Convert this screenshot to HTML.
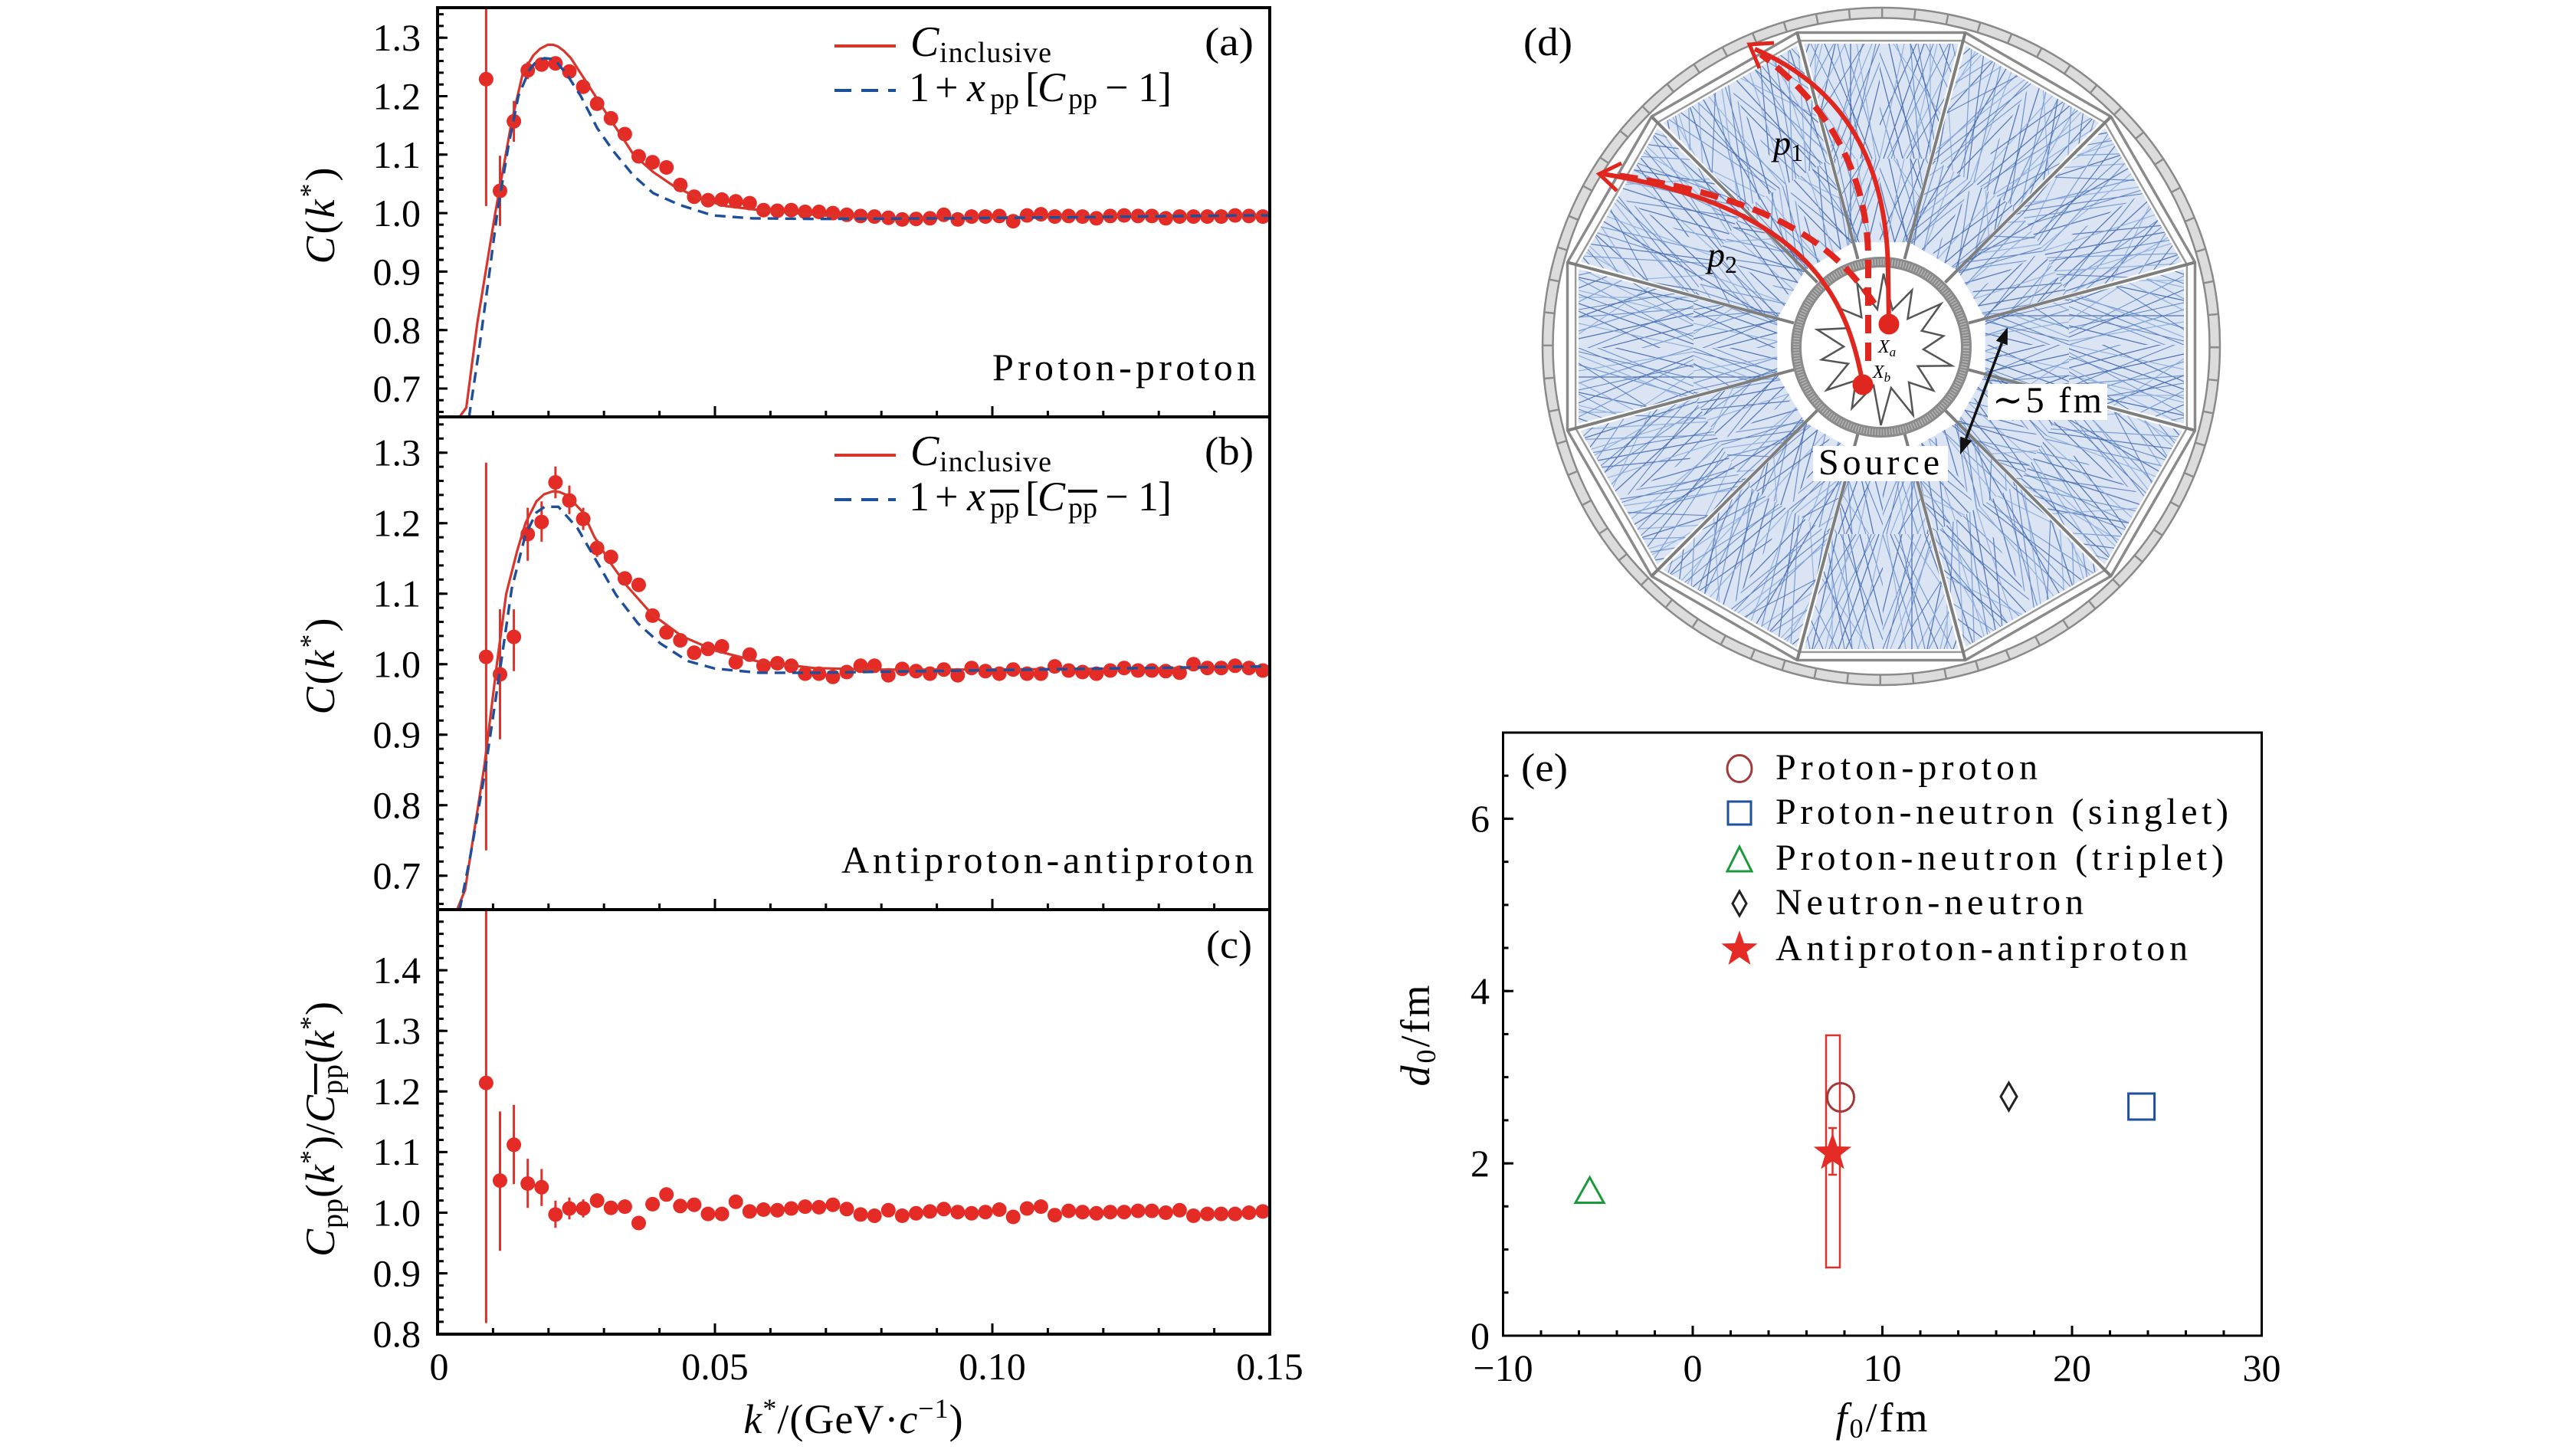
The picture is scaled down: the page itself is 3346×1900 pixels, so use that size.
<!DOCTYPE html>
<html><head><meta charset="utf-8"><style>html,body{margin:0;padding:0;background:#fff}svg{display:block}</style></head>
<body>
<svg width="3346" height="1900" viewBox="0 0 3346 1900" xmlns="http://www.w3.org/2000/svg" font-family="'Liberation Serif','DejaVu Serif',serif">
<defs>
<clipPath id="cA"><rect x="571" y="10" width="1086" height="534"/></clipPath>
<clipPath id="cB"><rect x="571" y="544" width="1086" height="643"/></clipPath>
<clipPath id="cC"><rect x="571" y="1187" width="1086" height="554"/></clipPath>
<pattern id="trk" patternUnits="userSpaceOnUse" width="150" height="150">
<g fill="none" stroke-opacity="0.8">
<path stroke="#2a54a0" stroke-width="1.2" d="M0 5L150 58M0 45L150 12M0 95L150 40M0 140L150 78M0 -20L150 48M0 60L150 92M0 125L150 162M0 30L150 -8M0 112L150 112"/>
<path stroke="#5a84c6" stroke-width="1.2" d="M0 20L150 -25M0 70L150 22M0 100L150 160M0 150L150 104M0 10L150 90M0 52L150 40M0 85L150 128M0 135L150 60"/>
<path stroke="#86a8da" stroke-width="1.3" d="M0 30L150 105M0 80L150 140M0 118L150 18M0 0L150 32M0 66L150 66M0 145L150 120M0 40L150 75"/>
<path stroke="#3d68b0" stroke-width="1.05" d="M0 15L150 70M0 55L150 -5M0 90L150 150M0 128L150 95M0 75L150 50M0 35L150 130M0 110L150 145"/>
</g>
</pattern>
<path id="wedge" d="M2590.7 417.4L2850 351.3L2850 552.7L2590.7 486.6Z"/>
</defs>
<rect width="3346" height="1900" fill="#fff"/>

<!-- ============ LEFT PANELS ============ -->
<g stroke="#e0302a" stroke-width="3" fill="none">
<path clip-path="url(#cA)" d="M634.4 10V268.9M652.5 203.3V294.8M670.6 131.6V185M688.7 80.5V103.3M706.8 75V93.4M724.9 75V90M743 86V101"/>
<path clip-path="url(#cB)" d="M634.4 603.8V1109.7M652.5 795.1V964.8M670.6 795.1V875.8M688.7 662.6V731.7M706.8 654.3V706.9M724.9 608.8V650.2M743 633.6V670.9M761.1 662.6V691.6M779.2 704V726.8"/>
<path clip-path="url(#cC)" d="M634.4 1187V1726.5M652.5 1450.4V1632.3M670.6 1441.7V1545.3M688.7 1512.1V1576.2M706.8 1525.5V1573.8M724.9 1566.7V1602.3M743 1562.7V1591.2M761.1 1565.1V1588.8M779.2 1557.2V1576.2M797.3 1568V1584"/>
</g>
<g fill="#e52b25" clip-path="url(#cA)">
<circle cx="634.4" cy="103.3" r="9.5"/><circle cx="652.5" cy="249.1" r="9.5"/><circle cx="670.6" cy="158.3" r="9.5"/><circle cx="688.7" cy="91.9" r="9.5"/><circle cx="706.8" cy="84.2" r="9.5"/><circle cx="724.9" cy="82.7" r="9.5"/><circle cx="743.0" cy="93.4" r="9.5"/><circle cx="761.1" cy="113.2" r="9.5"/><circle cx="779.2" cy="135.4" r="9.5"/><circle cx="797.3" cy="154.4" r="9.5"/>
<circle cx="815.4" cy="175.0" r="9.5"/><circle cx="833.5" cy="204.0" r="9.5"/><circle cx="851.6" cy="211.7" r="9.5"/><circle cx="869.7" cy="218.5" r="9.5"/><circle cx="887.8" cy="241.4" r="9.5"/><circle cx="905.9" cy="256.7" r="9.5"/><circle cx="924.0" cy="261.3" r="9.5"/><circle cx="942.1" cy="260.5" r="9.5"/><circle cx="960.2" cy="262.8" r="9.5"/><circle cx="978.3" cy="265.1" r="9.5"/>
<circle cx="996.4" cy="274.2" r="9.5"/><circle cx="1014.5" cy="275.0" r="9.5"/><circle cx="1032.6" cy="274.2" r="9.5"/><circle cx="1050.7" cy="276.5" r="9.5"/><circle cx="1068.8" cy="276.5" r="9.5"/><circle cx="1086.9" cy="278.1" r="9.5"/><circle cx="1105.0" cy="280.3" r="9.5"/><circle cx="1123.1" cy="281.9" r="9.5"/><circle cx="1141.2" cy="282.6" r="9.5"/><circle cx="1159.3" cy="284.2" r="9.5"/>
<circle cx="1177.4" cy="286.4" r="9.5"/><circle cx="1195.5" cy="285.7" r="9.5"/><circle cx="1213.6" cy="284.9" r="9.5"/><circle cx="1231.7" cy="280.3" r="9.5"/><circle cx="1249.8" cy="286.4" r="9.5"/><circle cx="1267.9" cy="282.6" r="9.5"/><circle cx="1286.0" cy="282.6" r="9.5"/><circle cx="1304.1" cy="281.9" r="9.5"/><circle cx="1322.2" cy="288.7" r="9.5"/><circle cx="1340.3" cy="281.1" r="9.5"/>
<circle cx="1358.4" cy="279.6" r="9.5"/><circle cx="1376.5" cy="282.6" r="9.5"/><circle cx="1394.6" cy="281.9" r="9.5"/><circle cx="1412.7" cy="282.6" r="9.5"/><circle cx="1430.8" cy="284.9" r="9.5"/><circle cx="1448.9" cy="281.9" r="9.5"/><circle cx="1467.0" cy="281.1" r="9.5"/><circle cx="1485.1" cy="281.9" r="9.5"/><circle cx="1503.2" cy="281.9" r="9.5"/><circle cx="1521.3" cy="284.9" r="9.5"/>
<circle cx="1539.4" cy="282.6" r="9.5"/><circle cx="1557.5" cy="282.6" r="9.5"/><circle cx="1575.6" cy="282.6" r="9.5"/><circle cx="1593.7" cy="282.6" r="9.5"/><circle cx="1611.8" cy="281.1" r="9.5"/><circle cx="1629.9" cy="281.9" r="9.5"/><circle cx="1648.0" cy="282.6" r="9.5"/>
</g>
<g fill="#e52b25" clip-path="url(#cB)">
<circle cx="634.4" cy="857.2" r="9.5"/><circle cx="652.5" cy="880" r="9.5"/><circle cx="670.6" cy="831.1" r="9.5"/><circle cx="688.7" cy="697" r="9.5"/><circle cx="706.8" cy="681.2" r="9.5"/><circle cx="724.9" cy="629.5" r="9.5"/><circle cx="743.0" cy="653.1" r="9.5"/><circle cx="761.1" cy="677.1" r="9.5"/><circle cx="779.2" cy="715.2" r="9.5"/><circle cx="797.3" cy="726.8" r="9.5"/>
<circle cx="815.4" cy="754.9" r="9.5"/><circle cx="833.5" cy="763.2" r="9.5"/><circle cx="851.6" cy="803.4" r="9.5"/><circle cx="869.7" cy="825.3" r="9.5"/><circle cx="887.8" cy="835.6" r="9.5"/><circle cx="905.9" cy="851.8" r="9.5"/><circle cx="924.0" cy="846.8" r="9.5"/><circle cx="942.1" cy="843.5" r="9.5"/><circle cx="960.2" cy="864.2" r="9.5"/><circle cx="978.3" cy="854.3" r="9.5"/>
<circle cx="996.4" cy="868.8" r="9.5"/><circle cx="1014.5" cy="865.5" r="9.5"/><circle cx="1032.6" cy="868.8" r="9.5"/><circle cx="1050.7" cy="879.1" r="9.5"/><circle cx="1068.8" cy="879.1" r="9.5"/><circle cx="1086.9" cy="883.3" r="9.5"/><circle cx="1105.0" cy="877.0" r="9.5"/><circle cx="1123.1" cy="868.8" r="9.5"/><circle cx="1141.2" cy="868.8" r="9.5"/><circle cx="1159.3" cy="881.2" r="9.5"/>
<circle cx="1177.4" cy="872.9" r="9.5"/><circle cx="1195.5" cy="875.8" r="9.5"/><circle cx="1213.6" cy="879.1" r="9.5"/><circle cx="1231.7" cy="873.7" r="9.5"/><circle cx="1249.8" cy="881.2" r="9.5"/><circle cx="1267.9" cy="871.7" r="9.5"/><circle cx="1286.0" cy="875.8" r="9.5"/><circle cx="1304.1" cy="879.1" r="9.5"/><circle cx="1322.2" cy="873.7" r="9.5"/><circle cx="1340.3" cy="879.1" r="9.5"/>
<circle cx="1358.4" cy="879.1" r="9.5"/><circle cx="1376.5" cy="869.6" r="9.5"/><circle cx="1394.6" cy="875.0" r="9.5"/><circle cx="1412.7" cy="877.0" r="9.5"/><circle cx="1430.8" cy="879.1" r="9.5"/><circle cx="1448.9" cy="875.0" r="9.5"/><circle cx="1467.0" cy="871.7" r="9.5"/><circle cx="1485.1" cy="875.0" r="9.5"/><circle cx="1503.2" cy="875.0" r="9.5"/><circle cx="1521.3" cy="875.8" r="9.5"/>
<circle cx="1539.4" cy="877.9" r="9.5"/><circle cx="1557.5" cy="866.7" r="9.5"/><circle cx="1575.6" cy="871.7" r="9.5"/><circle cx="1593.7" cy="871.7" r="9.5"/><circle cx="1611.8" cy="868.8" r="9.5"/><circle cx="1629.9" cy="871.7" r="9.5"/><circle cx="1648.0" cy="875.0" r="9.5"/>
</g>
<g fill="#e52b25" clip-path="url(#cC)">
<circle cx="634.4" cy="1413.2" r="9.5"/><circle cx="652.5" cy="1540.6" r="9.5"/><circle cx="670.6" cy="1493.9" r="9.5"/><circle cx="688.7" cy="1544.5" r="9.5"/><circle cx="706.8" cy="1549.3" r="9.5"/><circle cx="724.9" cy="1584.9" r="9.5"/><circle cx="743.0" cy="1577.0" r="9.5"/><circle cx="761.1" cy="1577.0" r="9.5"/><circle cx="779.2" cy="1566.7" r="9.5"/><circle cx="797.3" cy="1576.2" r="9.5"/>
<circle cx="815.4" cy="1574.6" r="9.5"/><circle cx="833.5" cy="1596.0" r="9.5"/><circle cx="851.6" cy="1571.4" r="9.5"/><circle cx="869.7" cy="1558.8" r="9.5"/><circle cx="887.8" cy="1573.8" r="9.5"/><circle cx="905.9" cy="1572.2" r="9.5"/><circle cx="924.0" cy="1584.1" r="9.5"/><circle cx="942.1" cy="1584.1" r="9.5"/><circle cx="960.2" cy="1568.3" r="9.5"/><circle cx="978.3" cy="1580.9" r="9.5"/>
<circle cx="996.4" cy="1578.5" r="9.5"/><circle cx="1014.5" cy="1579.3" r="9.5"/><circle cx="1032.6" cy="1577.0" r="9.5"/><circle cx="1050.7" cy="1574.6" r="9.5"/><circle cx="1068.8" cy="1575.4" r="9.5"/><circle cx="1086.9" cy="1572.2" r="9.5"/><circle cx="1105.0" cy="1577.8" r="9.5"/><circle cx="1123.1" cy="1584.9" r="9.5"/><circle cx="1141.2" cy="1586.5" r="9.5"/><circle cx="1159.3" cy="1579.3" r="9.5"/>
<circle cx="1177.4" cy="1586.5" r="9.5"/><circle cx="1195.5" cy="1583.3" r="9.5"/><circle cx="1213.6" cy="1580.9" r="9.5"/><circle cx="1231.7" cy="1577.8" r="9.5"/><circle cx="1249.8" cy="1581.7" r="9.5"/><circle cx="1267.9" cy="1583.3" r="9.5"/><circle cx="1286.0" cy="1581.7" r="9.5"/><circle cx="1304.1" cy="1578.5" r="9.5"/><circle cx="1322.2" cy="1588.0" r="9.5"/><circle cx="1340.3" cy="1577.0" r="9.5"/>
<circle cx="1358.4" cy="1574.6" r="9.5"/><circle cx="1376.5" cy="1585.7" r="9.5"/><circle cx="1394.6" cy="1580.1" r="9.5"/><circle cx="1412.7" cy="1581.7" r="9.5"/><circle cx="1430.8" cy="1583.3" r="9.5"/><circle cx="1448.9" cy="1581.7" r="9.5"/><circle cx="1467.0" cy="1581.7" r="9.5"/><circle cx="1485.1" cy="1580.1" r="9.5"/><circle cx="1503.2" cy="1580.1" r="9.5"/><circle cx="1521.3" cy="1582.5" r="9.5"/>
<circle cx="1539.4" cy="1579.3" r="9.5"/><circle cx="1557.5" cy="1586.5" r="9.5"/><circle cx="1575.6" cy="1584.1" r="9.5"/><circle cx="1593.7" cy="1584.1" r="9.5"/><circle cx="1611.8" cy="1584.1" r="9.5"/><circle cx="1629.9" cy="1582.5" r="9.5"/><circle cx="1648.0" cy="1580.9" r="9.5"/>
</g>
<g fill="none" stroke-linejoin="round">
<polyline clip-path="url(#cA)" stroke="#d8362c" stroke-width="3.2" points="599,545 608.5,532 623,420.7 646.3,278 667.8,158.3 682.4,94.9 696.2,72 705,63.5 715,58.3 722,58.5 728,60.6 736,66.5 745,75.9 762.3,102.6 777,125.5 794,152.2 812,178.9 826.7,201.8 852.5,224.6 878.3,242.2 912.6,259 947,268.9 998.6,275 1084.5,281.9 1196,284.9 1325,283.4 1497,281.9 1657,281.1"/>
<polyline clip-path="url(#cA)" stroke="#1d4f9a" stroke-width="3.4" stroke-dasharray="14 9" points="612,545 624.8,458.9 637.7,363.5 648.9,278 663.5,190.3 676.4,125.5 691,91.1 700,80 710.8,75.9 723.6,77.4 740.8,98.7 758,125.5 779.5,167.4 801,197.9 826.7,229.2 852.5,252.1 887,267.4 929.8,281.1 981.4,284.9 1067.3,285.7 1239,284.9 1411,283.4 1625.7,281.1 1657,281.1"/>
<polyline clip-path="url(#cB)" stroke="#d8362c" stroke-width="3.2" points="596.1,1188 606.9,1161.5 632,1000 648.4,866.7 660.6,774.8 675,718.5 685.7,682.9 700,654.3 710,645 721.6,641.1 730,642 739.5,646 761,668.8 775.3,700 796.9,735 818.4,765 850.6,801.3 890.1,830.3 933.1,848.9 990.4,863.4 1062.1,871.7 1133.8,873.7 1277.2,873.7 1420.6,872.9 1564,871.7 1657,870.8"/>
<polyline clip-path="url(#cB)" stroke="#1d4f9a" stroke-width="3.4" stroke-dasharray="14 9" points="599.7,1188 614,1115.9 632,1012.4 653.5,867.5 667.8,768.2 685.7,697.8 700,668.8 710.8,661.3 728.7,661.3 753.8,689.5 775.3,726.8 804,776.4 832.7,813.7 861.4,839.4 897.2,862.6 933.1,872.5 990.4,877.9 1062.1,877.9 1205.5,875.8 1348.9,873.7 1492.3,871.7 1657,869.6"/>
</g>
<g fill="none" stroke="#000">
<rect x="571" y="10" width="1086" height="1731" stroke-width="4"/>
<line x1="571" y1="544" x2="1657" y2="544" stroke-width="4"/>
<line x1="571" y1="1187" x2="1657" y2="1187" stroke-width="4"/>
</g>
<g stroke="#000" fill="none">
<line x1="575" y1="17.13" x2="575" y2="538.97" stroke-width="8" stroke-dasharray="3 12.26"/>
<line x1="577.5" y1="47.7" x2="577.5" y2="508.45" stroke-width="13" stroke-dasharray="3 73.3"/>
<line x1="575" y1="552.4" x2="575" y2="1181" stroke-width="8" stroke-dasharray="3 15.4"/>
<line x1="577.5" y1="589.2" x2="577.5" y2="1144.2" stroke-width="13" stroke-dasharray="3 89"/>
<line x1="575" y1="1201.3" x2="575" y2="1726.4" stroke-width="8" stroke-dasharray="3 12.82"/>
<line x1="577.5" y1="1264.6" x2="577.5" y2="1742.2" stroke-width="13" stroke-dasharray="3 76.1"/>
<line x1="641.9" y1="540" x2="1586.1" y2="540" stroke-width="8" stroke-dasharray="3 69.4"/>
<line x1="641.9" y1="1183" x2="1586.1" y2="1183" stroke-width="8" stroke-dasharray="3 69.4"/>
<line x1="641.9" y1="1737" x2="1586.1" y2="1737" stroke-width="8" stroke-dasharray="3 69.4"/>
<path stroke-width="3" d="M933 544V530M1295 544V530M933 1187V1173M1295 1187V1173M933 1741V1727M1295 1741V1727"/>
</g>
<g font-size="50" text-anchor="end" fill="#000">
<text x="549" y="66">1.3</text><text x="549" y="142.5">1.2</text><text x="549" y="218.8">1.1</text><text x="549" y="295">1.0</text><text x="549" y="371.4">0.9</text><text x="549" y="447.7">0.8</text><text x="549" y="524">0.7</text>
<text x="549" y="607.7">1.3</text><text x="549" y="699.7">1.2</text><text x="549" y="791.7">1.1</text><text x="549" y="883.7">1.0</text><text x="549" y="975.7">0.9</text><text x="549" y="1067.7">0.8</text><text x="549" y="1159.7">0.7</text>
<text x="549" y="1283">1.4</text><text x="549" y="1362">1.3</text><text x="549" y="1441">1.2</text><text x="549" y="1520">1.1</text><text x="549" y="1599.5">1.0</text><text x="549" y="1678.5">0.9</text><text x="549" y="1757.5">0.8</text>
</g>
<g font-size="50" text-anchor="middle">
<text x="573" y="1800">0</text><text x="933" y="1800">0.05</text><text x="1295" y="1800">0.10</text><text x="1657" y="1800">0.15</text>
</g>
<text transform="translate(436,280) rotate(-90)" text-anchor="middle" font-size="54" letter-spacing="3"><tspan font-style="italic">C</tspan>(<tspan font-style="italic">k</tspan><tspan font-size="36" dy="-20">*</tspan><tspan dy="20">)</tspan></text>
<text transform="translate(436,868) rotate(-90)" text-anchor="middle" font-size="54" letter-spacing="3"><tspan font-style="italic">C</tspan>(<tspan font-style="italic">k</tspan><tspan font-size="36" dy="-20">*</tspan><tspan dy="20">)</tspan></text>
<text transform="translate(436,1473) rotate(-90)" text-anchor="middle" font-size="54" letter-spacing="1"><tspan font-style="italic">C</tspan><tspan font-size="38" dy="10">pp</tspan><tspan dy="-10">(</tspan><tspan font-style="italic">k</tspan><tspan font-size="36" dy="-20">*</tspan><tspan dy="20">)/</tspan><tspan font-style="italic">C</tspan><tspan font-size="38" dy="10" text-decoration="overline">pp</tspan><tspan dy="-10">(</tspan><tspan font-style="italic">k</tspan><tspan font-size="36" dy="-20">*</tspan><tspan dy="20">)</tspan></text>
<text x="1114" y="1870" text-anchor="middle" font-size="54" letter-spacing="1"><tspan font-style="italic">k</tspan><tspan font-size="36" dy="-20">*</tspan><tspan dy="20">/(GeV·</tspan><tspan font-style="italic">c</tspan><tspan font-size="36" dy="-20">−1</tspan><tspan dy="20">)</tspan></text>
<!-- legends a -->
<line x1="1089" y1="60" x2="1169" y2="60" stroke="#d8362c" stroke-width="4"/>
<line x1="1089" y1="118" x2="1169" y2="118" stroke="#1d4f9a" stroke-width="4" stroke-dasharray="22 13"/>
<text x="1188" y="73" font-size="56" font-style="italic">C</text>
<text x="1226" y="81" font-size="38" textLength="146" lengthAdjust="spacing">inclusive</text>
<text y="132" font-size="54"><tspan x="1186">1</tspan><tspan x="1220">+</tspan><tspan x="1262" font-style="italic">x</tspan><tspan x="1292" y="141" font-size="38">pp</tspan><tspan x="1338" y="132">[</tspan><tspan x="1354" font-style="italic">C</tspan><tspan x="1394" y="141" font-size="38">pp</tspan><tspan x="1442" y="132">−</tspan><tspan x="1485">1</tspan><tspan x="1511">]</tspan></text>
<text x="1572" y="72" font-size="52" textLength="64" lengthAdjust="spacingAndGlyphs">(a)</text>
<text x="1295" y="496" font-size="50" textLength="344" lengthAdjust="spacing">Proton-proton</text>
<!-- legends b -->
<line x1="1089" y1="594" x2="1169" y2="594" stroke="#d8362c" stroke-width="4"/>
<line x1="1089" y1="652" x2="1169" y2="652" stroke="#1d4f9a" stroke-width="4" stroke-dasharray="22 13"/>
<text x="1188" y="607" font-size="56" font-style="italic">C</text>
<text x="1226" y="615" font-size="38" textLength="146" lengthAdjust="spacing">inclusive</text>
<text y="666" font-size="54"><tspan x="1186">1</tspan><tspan x="1220">+</tspan><tspan x="1262" font-style="italic">x</tspan><tspan x="1292" y="675" font-size="38" text-decoration="overline">pp</tspan><tspan x="1338" y="666">[</tspan><tspan x="1354" font-style="italic">C</tspan><tspan x="1394" y="675" font-size="38" text-decoration="overline">pp</tspan><tspan x="1442" y="666">−</tspan><tspan x="1485">1</tspan><tspan x="1511">]</tspan></text>
<text x="1572" y="606" font-size="52" textLength="64" lengthAdjust="spacingAndGlyphs">(b)</text>
<text x="1098" y="1139" font-size="50" textLength="538" lengthAdjust="spacing">Antiproton-antiproton</text>
<text x="1574" y="1250" font-size="52" textLength="60" lengthAdjust="spacingAndGlyphs">(c)</text>

<!-- ============ PANEL D ============ -->
<g>
<g fill="#dbe4f3"><use href="#wedge"/><use href="#wedge" transform="rotate(30 2455 452)"/><use href="#wedge" transform="rotate(60 2455 452)"/><use href="#wedge" transform="rotate(90 2455 452)"/><use href="#wedge" transform="rotate(120 2455 452)"/><use href="#wedge" transform="rotate(150 2455 452)"/><use href="#wedge" transform="rotate(180 2455 452)"/><use href="#wedge" transform="rotate(210 2455 452)"/><use href="#wedge" transform="rotate(240 2455 452)"/><use href="#wedge" transform="rotate(270 2455 452)"/><use href="#wedge" transform="rotate(300 2455 452)"/><use href="#wedge" transform="rotate(330 2455 452)"/></g>
<g fill="url(#trk)"><use href="#wedge"/><use href="#wedge" transform="rotate(30 2455 452)"/><use href="#wedge" transform="rotate(60 2455 452)"/><use href="#wedge" transform="rotate(90 2455 452)"/><use href="#wedge" transform="rotate(120 2455 452)"/><use href="#wedge" transform="rotate(150 2455 452)"/><use href="#wedge" transform="rotate(180 2455 452)"/><use href="#wedge" transform="rotate(210 2455 452)"/><use href="#wedge" transform="rotate(240 2455 452)"/><use href="#wedge" transform="rotate(270 2455 452)"/><use href="#wedge" transform="rotate(300 2455 452)"/><use href="#wedge" transform="rotate(330 2455 452)"/></g>
<circle cx="2455" cy="452" r="435" fill="none" stroke="#dcdcdc" stroke-width="13"/>
<circle cx="2455" cy="452" r="435" fill="none" stroke="#8d8d8d" stroke-width="13" stroke-dasharray="2.5 40.2"/>
<circle cx="2455" cy="452" r="442" fill="none" stroke="#8a8a8a" stroke-width="2.5"/>
<circle cx="2455" cy="452" r="428.5" fill="none" stroke="#8a8a8a" stroke-width="2.5"/>
<polygon fill="none" stroke="#8a8a8a" stroke-width="3.5" points="2864.5,561.7 2754.8,751.8 2564.7,861.5 2345.3,861.5 2155.2,751.8 2045.5,561.7 2045.5,342.3 2155.2,152.2 2345.3,42.5 2564.7,42.5 2754.8,152.2 2864.5,342.3"/>
<polygon fill="none" stroke="#9a9a9a" stroke-width="2.5" points="2853.9,558.9 2747,744 2561.9,850.9 2348.1,850.9 2163,744 2056.1,558.9 2056.1,345.1 2163,160 2348.1,53.1 2561.9,53.1 2747,160 2853.9,345.1"/>
<path stroke="#7e7e7e" stroke-width="4" fill="none" d="M2569 482.5L2864.5 561.7M2538.4 535.4L2754.8 751.8M2485.5 566L2564.7 861.5M2424.5 566L2345.3 861.5M2371.6 535.4L2155.2 751.8M2341 482.5L2045.5 561.7M2341 421.5L2045.5 342.3M2371.6 368.6L2155.2 152.2M2424.5 338L2345.3 42.5M2485.5 338L2564.7 42.5M2538.4 368.6L2754.8 152.2M2569 421.5L2864.5 342.3"/>
<circle cx="2455" cy="453" r="111" fill="#fff" stroke="#8a8a8a" stroke-width="14"/>
<circle cx="2455" cy="453" r="111" fill="none" stroke="#b5b5b5" stroke-width="8" stroke-dasharray="1.5 2.2"/>
<polygon fill="#fff" stroke="#555" stroke-width="2.5" stroke-linejoin="miter" points="2458,357 2469.7,404.4 2495.2,378.6 2489.5,416.1 2532.9,396.5 2507.8,431.7 2536.3,438.4 2510,455.9 2547.3,477.3 2502.6,477.7 2523.1,509.7 2491.1,498.9 2496.6,541.8 2467.9,506.1 2454.5,554.9 2445.1,503.3 2416.7,532.7 2421.9,496.5 2383.6,509.1 2412,474.6 2377.2,469.3 2406.1,452.3 2371.5,430.2 2409.9,428.3 2398.6,401.5 2429.3,414.1 2423.5,369.7 2449.9,403.6"/>
<g fill="none" stroke="#e0271f" stroke-linecap="butt">
<path stroke-width="6" d="M2465 423L2464 360C2464 230 2420 120 2290 64"/>
<path stroke-width="8" stroke-dasharray="24 12" d="M2438 471L2438 333C2436 230 2390 140 2298 71"/>
<path stroke-width="6" d="M2431 502C2410 380 2350 270 2092 227"/>
<path stroke-width="8" stroke-dasharray="24 12" d="M2446 396C2400 330 2330 260 2104 228"/>
<path stroke-width="5" stroke-linejoin="miter" d="M2296 89L2283 58L2315 56M2110 249L2087 227L2116 213"/>
</g>
<circle cx="2465" cy="423" r="13.5" fill="#e0271f"/>
<circle cx="2431" cy="502" r="13.5" fill="#e0271f"/>
<text x="2451" y="460" font-size="24" font-style="italic">X<tspan font-size="17" dy="5">a</tspan></text>
<text x="2444" y="493" font-size="24" font-style="italic">X<tspan font-size="17" dy="5">b</tspan></text>
<text x="2314" y="202" font-size="46" font-style="italic">p<tspan font-size="32" font-style="normal" dy="8">1</tspan></text>
<text x="2228" y="348" font-size="46" font-style="italic">p<tspan font-size="32" font-style="normal" dy="8">2</tspan></text>
<rect x="2366" y="582" width="176" height="46" fill="#fff"/>
<text x="2373" y="619" font-size="48" textLength="158" lengthAdjust="spacing">Source</text>
<rect x="2594" y="501" width="156" height="47" fill="#fff"/>
<text x="2600" y="538" font-size="48" textLength="143" lengthAdjust="spacing">∼5 fm</text>
<line x1="2612.3" y1="447.6" x2="2565.7" y2="572.4" stroke="#111" stroke-width="3.5"/>
<polygon fill="#111" points="2620,427 2619.8,450.4 2604.8,444.8"/>
<polygon fill="#111" points="2558,593 2573.2,575.2 2558.2,569.6"/>
<text x="1988" y="72" font-size="52" textLength="64" lengthAdjust="spacingAndGlyphs">(d)</text>
</g>

<!-- ============ PANEL E ============ -->
<g>
<rect x="1961.5" y="956" width="990" height="787" fill="none" stroke="#000" stroke-width="3"/>
<g stroke="#000" fill="none">
<line x1="2009.5" y1="1739.5" x2="2903.5" y2="1739.5" stroke-width="7" stroke-dasharray="3 46.5"/>
<line x1="1965" y1="1010.7" x2="1965" y2="1688.3" stroke-width="7" stroke-dasharray="3 53.21"/>
<path stroke-width="3" d="M2209 1743V1730M2456.5 1743V1730M2704 1743V1730M1961.5 1518.1H1975M1961.5 1293.3H1975M1961.5 1068.4H1975"/>
</g>
<g font-size="50" text-anchor="end">
<text x="1944" y="1760">0</text><text x="1944" y="1535">2</text><text x="1944" y="1310">4</text><text x="1944" y="1085">6</text>
</g>
<g font-size="50" text-anchor="middle">
<text x="1961.5" y="1802">−10</text><text x="2209" y="1802">0</text><text x="2456.5" y="1802">10</text><text x="2704" y="1802">20</text><text x="2951.5" y="1802">30</text>
</g>
<text x="2457" y="1868" text-anchor="middle" font-size="54" letter-spacing="3"><tspan font-style="italic">f</tspan><tspan font-size="36" dy="8">0</tspan><tspan dy="-8">/fm</tspan></text>
<text transform="translate(1865,1350) rotate(-90)" text-anchor="middle" font-size="54" letter-spacing="3"><tspan font-style="italic">d</tspan><tspan font-size="36" dy="8">0</tspan><tspan dy="-8">/fm</tspan></text>
<text x="1985" y="1019" font-size="52" textLength="61" lengthAdjust="spacingAndGlyphs">(e)</text>
<rect x="2383" y="1351" width="18" height="303" fill="none" stroke="#e0302a" stroke-width="2.5"/>
<polygon points="2074.6,1536.5 2056,1569.5 2093,1569.5" fill="none" stroke="#1a9a3a" stroke-width="3"/>
<ellipse cx="2402" cy="1432" rx="17.5" ry="18.5" fill="none" stroke="#a33a3a" stroke-width="3"/>
<polygon points="2621.5,1413 2632,1431 2621.5,1449 2611,1431" fill="none" stroke="#222" stroke-width="3"/>
<rect x="2777.6" y="1427" width="34" height="34" fill="none" stroke="#1f4f9f" stroke-width="3"/>
<path d="M2391.5 1472V1533M2386 1472H2397M2386 1533H2397" stroke="#e0302a" stroke-width="2.5" fill="none"/>
<polygon fill="#e52b25" points="2391.5,1478.5 2397.67,1496.01 2416.23,1496.47 2401.49,1507.74 2406.78,1525.53 2391.5,1515 2376.22,1525.53 2381.51,1507.74 2366.77,1496.47 2385.33,1496.01"/>
<ellipse cx="2270" cy="1003" rx="16" ry="17.5" fill="none" stroke="#a33a3a" stroke-width="3"/>
<rect x="2255" y="1046" width="30" height="30" fill="none" stroke="#1f4f9f" stroke-width="3"/>
<polygon points="2270,1105 2254,1137 2286,1137" fill="none" stroke="#1a9a3a" stroke-width="3"/>
<polygon points="2270,1163 2279,1179 2270,1195 2261,1179" fill="none" stroke="#222" stroke-width="3"/>
<polygon fill="#e52b25" transform="translate(2270,1239) scale(0.95) translate(-2391.5,-1504.5)" points="2391.5,1478.5 2397.67,1496.01 2416.23,1496.47 2401.49,1507.74 2406.78,1525.53 2391.5,1515 2376.22,1525.53 2381.51,1507.74 2366.77,1496.47 2385.33,1496.01"/>
<g font-size="48">
<text x="2317" y="1017" textLength="342" lengthAdjust="spacing">Proton-proton</text>
<text x="2317" y="1075" textLength="591" lengthAdjust="spacing">Proton-neutron (singlet)</text>
<text x="2317" y="1135" textLength="585" lengthAdjust="spacing">Proton-neutron (triplet)</text>
<text x="2317" y="1193" textLength="402" lengthAdjust="spacing">Neutron-neutron</text>
<text x="2317" y="1253" textLength="538" lengthAdjust="spacing">Antiproton-antiproton</text>
</g>
</g>
</svg>
</body></html>
